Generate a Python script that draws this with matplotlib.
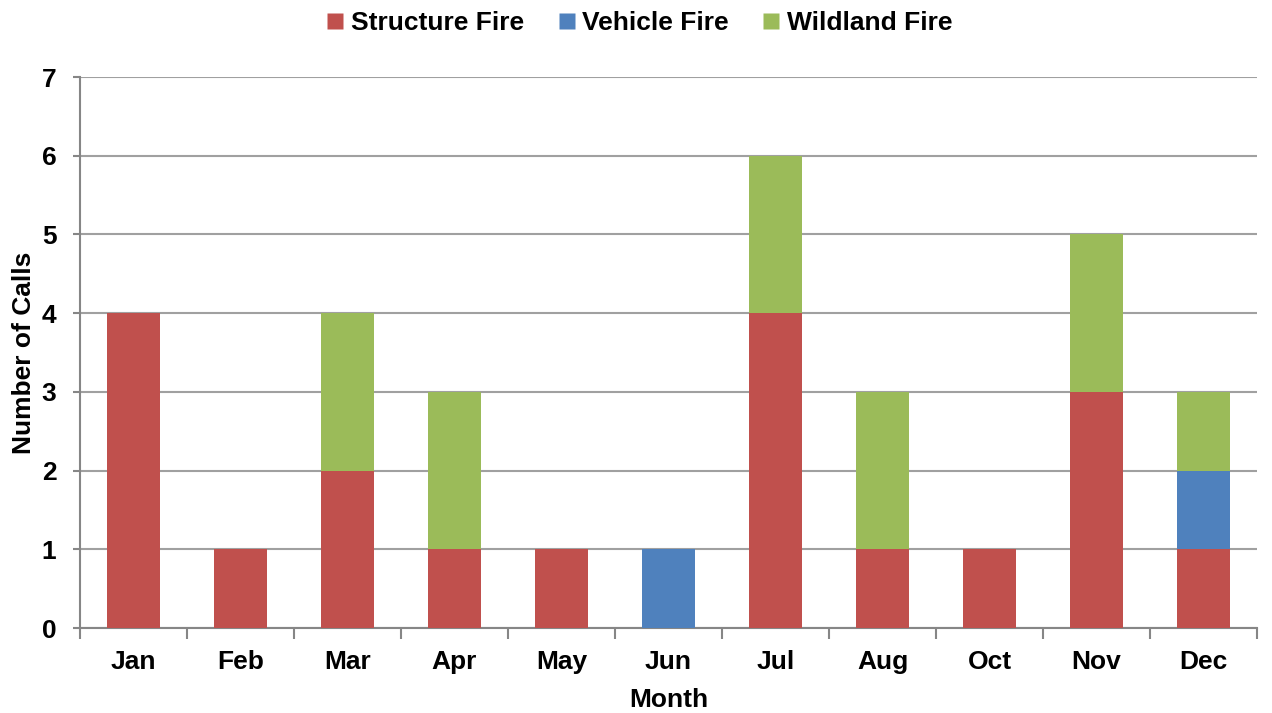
import matplotlib
matplotlib.use("Agg")
import matplotlib.pyplot as plt
import numpy as np
from matplotlib.lines import Line2D

months = ["Jan", "Feb", "Mar", "Apr", "May", "Jun", "Jul", "Aug", "Oct", "Nov", "Dec"]
structure = [4, 1, 2, 1, 1, 0, 4, 1, 1, 3, 1]
vehicle = [0, 0, 0, 0, 0, 1, 0, 0, 0, 0, 1]
wildland = [0, 0, 2, 2, 0, 0, 2, 2, 0, 2, 1]
series_names = ["Structure Fire", "Vehicle Fire", "Wildland Fire"]
colors = ["#C0504D", "#4F81BD", "#9BBB59"]

plt.rcParams['font.family'] = ['Liberation Sans', 'DejaVu Sans']
plt.rcParams['font.weight'] = 'bold'

FS = 19

fig = plt.figure(figsize=(12.72, 7.13), dpi=100)
ax = fig.add_axes([0.0629, 0.1192, 0.9253, 0.7728])

x = np.arange(len(months))
bottom = np.zeros(len(months))
for vals, name, c in zip([structure, vehicle, wildland], series_names, colors):
    vals = np.array(vals, dtype=float)
    ax.bar(x, vals, width=0.5, bottom=bottom, color=c, label=name, zorder=3,
           edgecolor='none')
    bottom += vals

ax.set_xlim(-0.5, len(months) - 0.5)
ax.set_ylim(0, 7)
ax.set_yticks(range(0, 8))
ax.yaxis.grid(True, color='#A0A0A0', linewidth=1.5, zorder=0)
ax.set_axisbelow(True)

ax.set_xticks(x)
ax.set_xticklabels(months)
ax.set_xticks(np.arange(-0.5, len(months), 1), minor=True)
ax.tick_params(axis='x', which='major', length=0, pad=16, labelsize=FS)
ax.tick_params(axis='x', which='minor', length=8, width=1.5, color='#868686')
ax.tick_params(axis='y', which='major', length=5, width=1.5, color='#868686', pad=12, labelsize=FS)

for s in ['top', 'right']:
    ax.spines[s].set_visible(False)
for s in ['left', 'bottom']:
    ax.spines[s].set_color('#868686')
    ax.spines[s].set_linewidth(1.5)

ax.set_xlabel("Month", fontsize=FS, fontweight='bold', labelpad=10)
ax.set_ylabel("Number of Calls", fontsize=FS, fontweight='bold', labelpad=4)

handles = [Line2D([0], [0], marker='s', linestyle='none', markersize=11,
                  markerfacecolor=c, markeredgecolor='none') for c in colors]
fig.legend(handles, series_names, loc='center', bbox_to_anchor=(0.5, 0.968), ncol=3,
           frameon=False, fontsize=FS, handletextpad=0.0, columnspacing=1.0,
           handlelength=1.2)

fig.savefig("out.png", dpi=100)
